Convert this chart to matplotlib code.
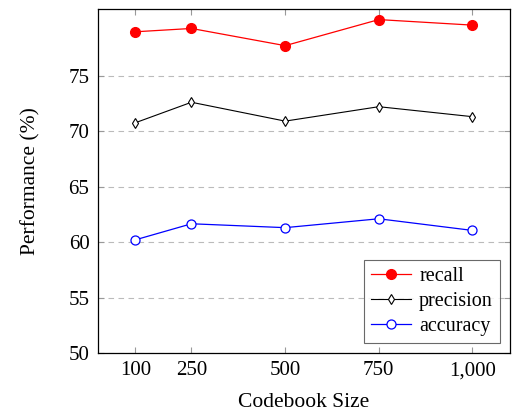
import matplotlib.pyplot as plt
from matplotlib.ticker import FuncFormatter

plt.switch_backend('Agg')
plt.rcParams['font.family'] = ['Liberation Serif', 'DejaVu Serif']
plt.rcParams['mathtext.fontset'] = 'stix'

codebook_sizes = [100, 250, 500, 750, 1000]
recall = [78.95, 79.25, 77.7, 80.05, 79.55]
precision = [70.75, 72.6, 70.9, 72.2, 71.3]
accuracy = [60.2, 61.65, 61.3, 62.1, 61.05]
y_ticks = [50, 55, 60, 65, 70, 75]

fig = plt.figure(figsize=(5.12, 4.11), dpi=100)
ax = fig.add_axes([0.191, 0.141, 0.805, 0.837])

ax.plot(codebook_sizes, recall, color='red', marker='o', markersize=7,
        linewidth=0.9, label='recall')
ax.plot(codebook_sizes, precision, color='black', marker='d', markersize=5,
        markerfacecolor='white', markeredgewidth=0.8, linewidth=0.8, label='precision')
ax.plot(codebook_sizes, accuracy, color='blue', marker='o', markersize=6.5,
        markerfacecolor='white', markeredgewidth=0.9, linewidth=0.9, label='accuracy')

ax.set_xlim(0, 1100)
ax.set_ylim(50, 81)
ax.set_xticks(codebook_sizes)
ax.set_yticks(y_ticks)
ax.xaxis.set_major_formatter(FuncFormatter(lambda v, p: f"{int(v):,}"))
ax.tick_params(direction='in', length=4, width=0.8, color='#999999',
               top=True, right=True, labelsize=15, pad=6)
ax.yaxis.grid(True, linestyle=(0, (5, 4)), color='#bbbbbb', linewidth=0.8)
ax.set_axisbelow(True)
for s in ax.spines.values():
    s.set_linewidth(0.9)

ax.set_xlabel('Codebook Size', fontsize=15.5, labelpad=9)
ax.set_ylabel('Performance (%)', fontsize=15.5, labelpad=20)

leg = ax.legend(loc='lower right', fontsize=14.5, frameon=True, fancybox=False,
                edgecolor='#444444', handlelength=2.0, handletextpad=0.4,
                borderpad=0.35, labelspacing=0.3, borderaxespad=0.5)
leg.get_frame().set_linewidth(0.8)

fig.savefig('out.png', dpi=100)
plt.close(fig)
